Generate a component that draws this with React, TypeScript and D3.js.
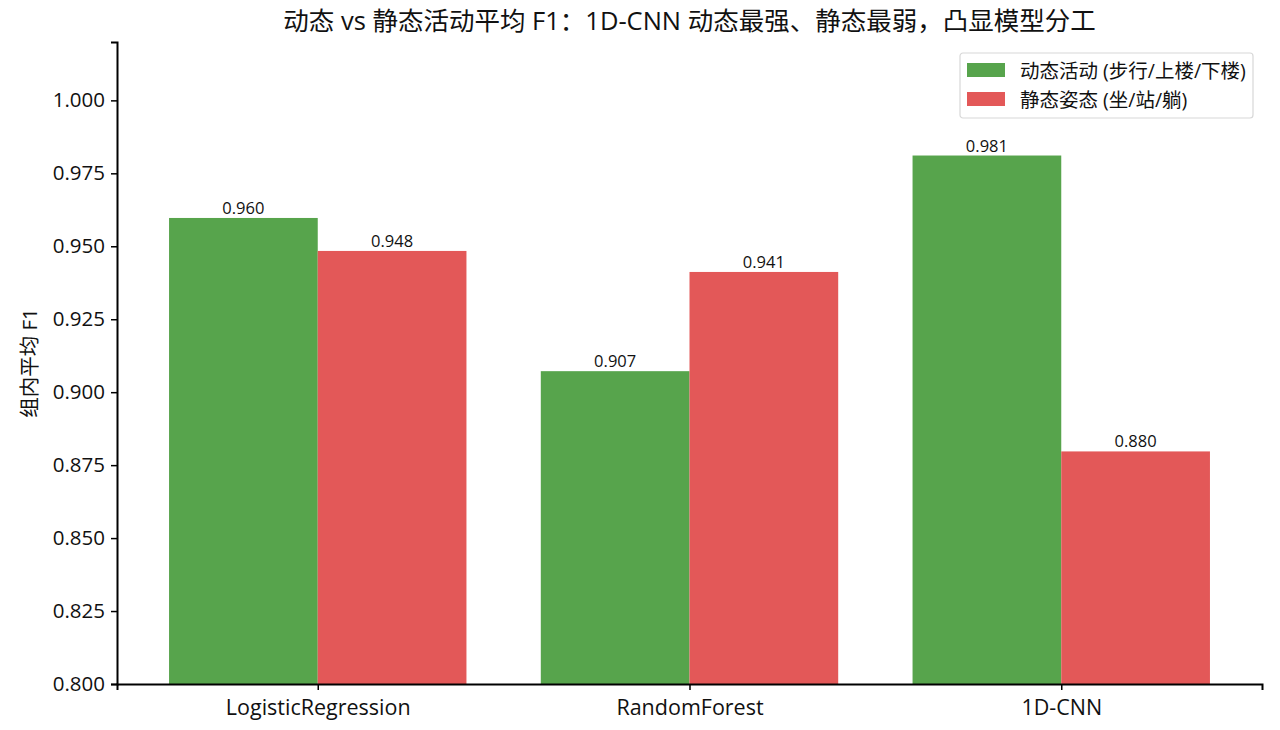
import { useEffect, useRef } from 'react'
import * as d3 from 'd3'

const models = ['LogisticRegression', 'RandomForest', '1D-CNN']
const dynamicF1 = [0.9597, 0.9072, 0.9811]
const staticF1 = [0.9484, 0.9412, 0.8797]
const seriesNames = ['动态活动 (步行/上楼/下楼)', '静态姿态 (坐/站/躺)']
const seriesColors = ['#57a44c', '#e35858']
const yTicks = [0.8, 0.825, 0.85, 0.875, 0.9, 0.925, 0.95, 0.975, 1.0]

const FONT = '"Open Sans", "Noto Sans CJK SC", sans-serif'

export default function App() {
  const svgRef = useRef<SVGSVGElement>(null)

  useEffect(() => {
    if (!svgRef.current) return
    const svg = d3.select(svgRef.current)
    svg.selectAll('*').remove()

    const width = 1280
    const height = 730
    const margin = { top: 42, right: 18, bottom: 46, left: 117 }
    const innerW = width - margin.left - margin.right
    const innerH = height - margin.top - margin.bottom

    svg.attr('width', width).attr('height', height).style('font-family', FONT)

    const g = svg.append('g').attr('transform', `translate(${margin.left},${margin.top})`)

    // x is continuous in category units, like matplotlib: -0.54 .. 2.54
    const x = d3.scaleLinear().domain([-0.54, models.length - 1 + 0.54]).range([0, innerW])
    const y = d3.scaleLinear().domain([0.8, 1.02]).range([innerH, 0])
    const barW = 0.4

    const series = [dynamicF1, staticF1]
    series.forEach((vals, si) => {
      const offset = si === 0 ? -barW / 2 : barW / 2
      const grp = g.append('g')
      vals.forEach((v, i) => {
        const cx = i + offset
        grp.append('rect')
          .attr('x', x(cx - barW / 2))
          .attr('y', y(v))
          .attr('width', x(cx + barW / 2) - x(cx - barW / 2))
          .attr('height', innerH - y(v))
          .attr('fill', seriesColors[si])
        grp.append('text')
          .attr('x', x(cx))
          .attr('y', y(v) - 4)
          .attr('text-anchor', 'middle')
          .style('font-size', '16.5px')
          .style('fill', '#111')
          .text(v.toFixed(3))
      })
    })

    // y axis
    const yAxis = g.append('g')
      .call(d3.axisLeft(y).tickValues(yTicks).tickFormat(d3.format('.3f')).tickSizeOuter(0).tickSize(6).tickPadding(6))
    yAxis.select('.domain').attr('stroke', '#000').attr('stroke-width', 2)
    yAxis.selectAll('.tick line').attr('stroke', '#000').attr('stroke-width', 1.5)
    yAxis.selectAll('.tick text').style('font-size', '20.5px').style('font-family', FONT).attr('fill', '#111')

    // x axis
    const xAxis = g.append('g')
      .attr('transform', `translate(0,${innerH})`)
      .call(d3.axisBottom(x).tickValues(d3.range(models.length)).tickFormat((d) => models[d as number]).tickSizeOuter(0).tickSize(6).tickPadding(10))
    xAxis.select('.domain').attr('stroke', '#000').attr('stroke-width', 2)
    xAxis.selectAll('.tick line').attr('stroke', '#000').attr('stroke-width', 1.5)
    xAxis.selectAll('.tick text').style('font-size', '21.5px').style('font-family', FONT).attr('fill', '#111')

    // y label
    svg.append('text')
      .attr('transform', `translate(37,${margin.top + innerH / 2}) rotate(-90)`)
      .attr('text-anchor', 'middle')
      .style('font-size', '20.5px')
      .style('fill', '#111')
      .text('组内平均 F1')

    // title
    svg.append('text')
      .attr('x', margin.left + innerW / 2)
      .attr('y', 30)
      .attr('text-anchor', 'middle')
      .style('font-size', '25.5px')
      .style('fill', '#111')
      .text('动态 vs 静态活动平均 F1：1D-CNN 动态最强、静态最弱，凸显模型分工')

    // legend
    const lg = svg.append('g').attr('transform', 'translate(960,53)')
    lg.append('rect')
      .attr('width', 293)
      .attr('height', 65)
      .attr('rx', 3)
      .attr('fill', 'white')
      .attr('stroke', '#d8d8d8')
      .attr('stroke-width', 1.2)
    seriesNames.forEach((name, i) => {
      lg.append('rect')
        .attr('x', 7)
        .attr('y', 10 + i * 29)
        .attr('width', 38)
        .attr('height', 14)
        .attr('fill', seriesColors[i])
      lg.append('text')
        .attr('x', 60)
        .attr('y', 24.5 + i * 29)
        .style('font-size', '19.5px')
        .style('fill', '#111')
        .text(name)
    })
  }, [])

  return <svg ref={svgRef} style={{ display: 'block', margin: '-8px' }}></svg>
}
